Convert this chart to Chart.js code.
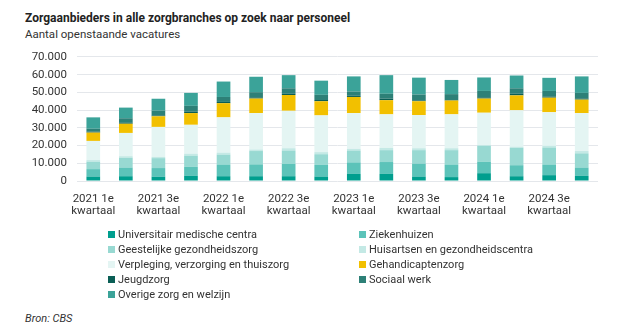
<!DOCTYPE html>
<html>
<head>
<meta charset="utf-8">
<script src="https://cdn.jsdelivr.net/npm/chart.js@4.4.1/dist/chart.umd.min.js"></script>
<style>
  body { margin: 0; background: #fff; font-family: Roboto, sans-serif; color: #333; }
  #title { position: absolute; left: 25px; top: 11px; font-size: 12px; font-weight: bold; color: #222; }
  #sub { position: absolute; left: 25px; top: 27px; font-size: 11.5px; color: #333; }
  #wrap { position: absolute; left: 0; top: 40px; width: 600px; height: 190px; }
  #legend { position: absolute; left: 108px; top: 227px; display: grid; grid-template-columns: 251px 220px; font-size: 11px; color: #333; }
  #legend div { height: 15px; line-height: 15px; white-space: nowrap; }
  #legend span { display: inline-block; width: 7px; height: 7px; margin-right: 3px; vertical-align: 0px; }
  #bron { position: absolute; left: 25px; top: 312px; font-size: 11px; font-style: italic; color: #333; }
</style>
</head>
<body>
<div id="title">Zorgaanbieders in alle zorgbranches op zoek naar personeel</div>
<div id="sub">Aantal openstaande vacatures</div>
<div id="wrap"><canvas id="chart"></canvas></div>
<div id="legend"></div>
<div id="bron">Bron: CBS</div>
<script>
const kwartalen = [
  "2021 1e kwartaal", "2021 2e kwartaal", "2021 3e kwartaal", "2021 4e kwartaal",
  "2022 1e kwartaal", "2022 2e kwartaal", "2022 3e kwartaal", "2022 4e kwartaal",
  "2023 1e kwartaal", "2023 2e kwartaal", "2023 3e kwartaal", "2023 4e kwartaal",
  "2024 1e kwartaal", "2024 2e kwartaal", "2024 3e kwartaal", "2024 4e kwartaal"
]

const universitair = [2500, 2700, 2400, 2900, 2700, 2700, 2700, 2500, 4000, 4000, 2500, 2200, 4400, 2700, 3300, 2900]
const ziekenhuizen = [4200, 4900, 4900, 5100, 6600, 6700, 6900, 6600, 6500, 6700, 7300, 7100, 6500, 6200, 6000, 4700]
const ggz = [4200, 5500, 5600, 6300, 5600, 7500, 7600, 6000, 6700, 6700, 7600, 8100, 8900, 9800, 9600, 8000]
const huisartsen = [900, 900, 700, 1100, 1100, 900, 1300, 1200, 900, 1300, 1100, 1100, 500, 700, 900, 1300]
const verpleging = [10800, 13100, 16900, 16300, 19900, 20500, 21100, 20700, 20200, 18900, 18700, 19100, 18200, 20500, 19000, 21400]
const gehandicapten = [4700, 5200, 6000, 6600, 8000, 8200, 8900, 8000, 9100, 8000, 7800, 7800, 8000, 8400, 8200, 7600]
const jeugdzorg = [600, 500, 500, 900, 700, 700, 700, 700, 700, 900, 500, 300, 700, 900, 700, 700]
const sociaalWerk = [1600, 2600, 2700, 3200, 2800, 2900, 3100, 2900, 2400, 2700, 3300, 3300, 3600, 3100, 3100, 3100]
const overige = [6400, 6000, 6700, 7300, 8700, 8700, 7400, 8000, 8500, 10500, 9500, 8000, 7600, 7200, 7400, 9300]

const yTicks = [0, 10000, 20000, 30000, 40000, 50000, 60000, 70000]

const series = [
  ["Universitair medische centra", universitair, "#009e8e"],
  ["Ziekenhuizen", ziekenhuizen, "#5cc3b9"],
  ["Geestelijke gezondheidszorg", ggz, "#98d9d2"],
  ["Huisartsen en gezondheidscentra", huisartsen, "#c4e9e5"],
  ["Verpleging, verzorging en thuiszorg", verpleging, "#e4f5f3"],
  ["Gehandicaptenzorg", gehandicapten, "#f2c000"],
  ["Jeugdzorg", jeugdzorg, "#0a5e55"],
  ["Sociaal werk", sociaalWerk, "#2d8077"],
  ["Overige zorg en welzijn", overige, "#3ba399"]
]

function punt(v) {
  return String(v).replace(/\B(?=(\d{3})+(?!\d))/g, ".")
}

const ctx = document.getElementById("chart").getContext("2d")

const chart = new Chart(ctx, {
  type: "bar",
  data: {
    labels: kwartalen,
    datasets: series.map(([label, data, color]) => ({
      label,
      data,
      backgroundColor: color,
      borderWidth: 0,
      barPercentage: 0.42,
      categoryPercentage: 1
    }))
  },
  options: {
    responsive: true,
    maintainAspectRatio: false,
    animation: false,
    layout: { padding: { top: 13, right: 2, left: 0, bottom: 0 } },
    plugins: {
      legend: { display: false },
      tooltip: { enabled: false }
    },
    scales: {
      x: {
        stacked: true,
        grid: { display: false, drawTicks: false },
        border: { display: false },
        ticks: {
          autoSkip: false,
          maxRotation: 0,
          padding: 12,
          color: "#333",
          font: { family: "Roboto", size: 11.5, lineHeight: 1.05 },
          callback: function (value, index) {
            if (index % 2 !== 0) return ""
            const parts = kwartalen[index].split(" ")
            return [parts[0] + " " + parts[1], parts[2]]
          }
        },
        afterFit: function (scale) { scale.height = 49 }
      },
      y: {
        stacked: true,
        min: 0,
        max: 70000,
        afterBuildTicks: function (scale) { scale.ticks = yTicks.map(v => ({ value: v })) },
        grid: { color: "#e4e7eb", lineWidth: 1, drawTicks: false },
        border: { display: false },
        ticks: {
          padding: 10,
          color: "#333",
          font: { family: "Roboto", size: 11.5 },
          callback: v => punt(v)
        },
        afterFit: function (scale) { scale.width = 77 }
      }
    }
  }
})

const legend = document.getElementById("legend")
chart.data.datasets.forEach(ds => {
  const item = document.createElement("div")
  const box = document.createElement("span")
  box.style.background = ds.backgroundColor
  item.appendChild(box)
  item.appendChild(document.createTextNode(ds.label))
  legend.appendChild(item)
})
</script>
</body>
</html>
